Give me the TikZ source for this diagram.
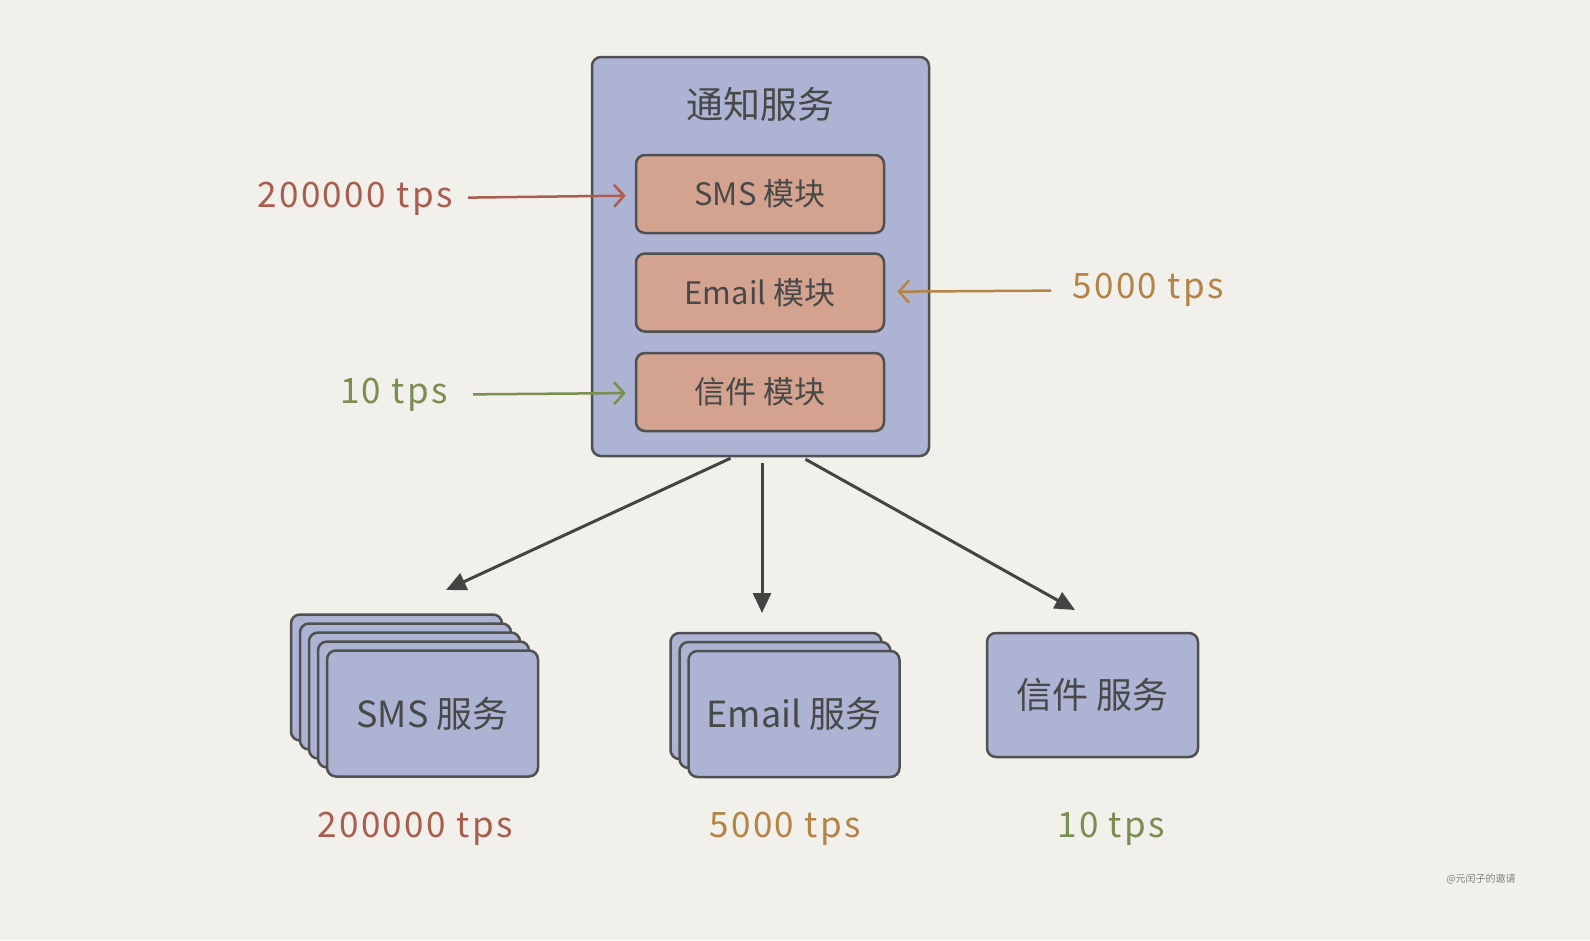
\documentclass[tikz,border=0pt]{standalone}
\usepackage{fontspec}
\setmainfont{Noto Sans CJK SC}
\newfontfamily\tpsfont[LetterSpace=7]{Noto Sans CJK SC}
\usepackage{xcolor}
\usepackage{tikz}
\usetikzlibrary{positioning, arrows.meta, calc}
\definecolor{paperbg}{RGB}{241, 240, 235}
\definecolor{svcblue}{RGB}{173, 179, 211}
\definecolor{modpink}{RGB}{212, 163, 144}
\definecolor{linegray}{RGB}{80, 80, 80}
\definecolor{textgray}{RGB}{72, 72, 72}
\definecolor{tpsred}{RGB}{170, 92, 78}
\definecolor{tpsorange}{RGB}{180, 132, 70}
\definecolor{tpsgreen}{RGB}{122, 142, 82}

\begin{document}
\begin{tikzpicture}[
  x=1pt, y=-1pt,
  font=\fontsize{36}{40}\selectfont,
  box/.style={
    draw=linegray, line width=2.5pt, rounded corners=9pt, align=center,
    text=textgray
  },
  outer/.style={box, fill=svcblue, minimum width=337pt, minimum height=399pt},
  modbox/.style={box, fill=modpink, minimum width=248pt, minimum height=78pt,
    font=\fontsize{31}{34}\selectfont},
  svcbox/.style={box, fill=svcblue, minimum width=211pt, minimum height=126pt},
  rate/.style={inner sep=0pt, font=\tpsfont\fontsize{35}{40}\selectfont},
  flow/.style={draw=linegray!85!black, line width=3pt,
    -{Triangle[length=20pt, width=18pt]}},
  feed/.style={line width=2.5pt, shorten <=15pt, shorten >=9pt,
    -{Straight Barb[length=10pt, width=22pt, line width=2.5pt]}},
  signature/.style={text=gray, font=\fontsize{10}{12}\selectfont}
]
\useasboundingbox (0,0) rectangle (1590,940);
\fill[paperbg] (0,0) rectangle (1590,940);

% notification service
\node[outer] (notify) at (760.5,256.5) {};
\node[text=textgray, font=\fontsize{37}{40}\selectfont] (title) at (760,104) {通知服务};
\node[modbox] (smsmod) at (760,194) {SMS 模块};
\node[modbox, below=18pt of smsmod] (emailmod) {Email 模块};
\node[modbox, below=19pt of emailmod] (lettermod) {信件 模块};

% incoming rates
\node[rate, text=tpsred] (smsin) at (355,199) {200000 tps};
\node[rate, text=tpsorange] (emailin) at (1148,290) {5000 tps};
\node[rate, text=tpsgreen] (letterin) at (394,395) {10 tps};

\draw[feed, tpsred] (smsin) -- (smsmod);
\draw[feed, tpsorange, shorten <=21pt, shorten >=12pt] (emailin) -- (emailmod);
\draw[feed, tpsgreen, shorten <=25pt] (letterin) -- (lettermod);

% backend services
\node[svcbox] (smsback4) at (396.5,677.5) {};
\node[svcbox] (smsback3) at (405.5,686.5) {};
\node[svcbox] (smsback2) at (414.5,695.5) {};
\node[svcbox] (smsback1) at (423.5,704.5) {};
\node[svcbox] (smssvc) at (432.5,713.5) {SMS 服务};

\node[svcbox] (emailback2) at (776,696) {};
\node[svcbox] (emailback1) at (785,705) {};
\node[svcbox] (emailsvc) at (794,714) {Email 服务};

\node[svcbox, minimum height=124pt] (lettersvc) at (1092.5,695) {信件 服务};

\coordinate (smstip) at (446,590);
\coordinate (emailtip) at (762,613);
\coordinate (lettertip) at (1075,610);

\draw[flow] ([xshift=-30pt, yshift=-1pt]notify.south) -- (smstip);
\draw[flow] ([xshift=1.5pt, yshift=-6pt]notify.south) -- (emailtip);
\draw[flow] ([xshift=45pt, yshift=-2pt]notify.south) -- (lettertip);

% outgoing rates
\node[rate, text=tpsred] (smsout) at (415,829) {200000 tps};
\node[rate, text=tpsorange] (emailout) at (785,829) {5000 tps};
\node[rate, text=tpsgreen] (letterout) at (1111,829) {10 tps};

\node[signature] (sign) at (1481,879) {@元闰子的邀请};
\end{tikzpicture}
\end{document}
